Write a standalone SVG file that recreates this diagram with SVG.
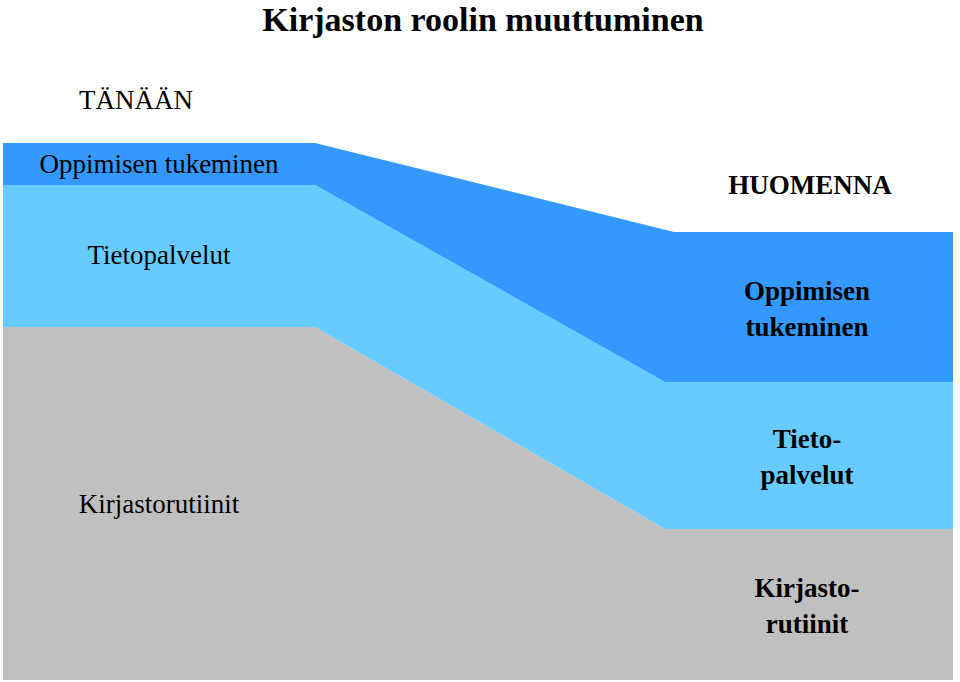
<svg xmlns="http://www.w3.org/2000/svg" width="960" height="682" viewBox="0 0 960 682">
<style>
text{font-family:"Liberation Serif","Times New Roman",serif;fill:#000}
.b{font-weight:bold;font-size:27px;text-anchor:middle}
.n{font-size:27px;text-anchor:middle}
</style>
<rect width="960" height="682" fill="#fff"/>
<g id="gray"><polygon points="3,327 315,327 665,529 953,529 953,680 3,680" fill="#C0C0C0"/></g>
<g id="light"><polygon points="3,185 315,185 665,382 953,382 953,529 665,529 315,327 3,327" fill="#66CCFF"/></g>
<g id="dark"><polygon points="3,143 315,143 674,232 953,232 953,382 665,382 315,185 3,185" fill="#3399FF"/></g>
<g id="connectors"></g>
<g id="labels">
<text x="483" y="31" class="b" style="font-size:34px">Kirjaston roolin muuttuminen</text>
<text x="136" y="109" class="n">TÄNÄÄN</text>
<text x="159" y="173" class="n">Oppimisen tukeminen</text>
<text x="159" y="264" class="n">Tietopalvelut</text>
<text x="159" y="513" class="n">Kirjastorutiinit</text>
<text x="810" y="194" class="b">HUOMENNA</text>
<text x="807" y="300" class="b">Oppimisen</text>
<text x="807" y="336" class="b">tukeminen</text>
<text x="807" y="448" class="b">Tieto-</text>
<text x="807" y="484" class="b">palvelut</text>
<text x="807" y="597" class="b">Kirjasto-</text>
<text x="807" y="633" class="b">rutiinit</text>
</g>
</svg>
